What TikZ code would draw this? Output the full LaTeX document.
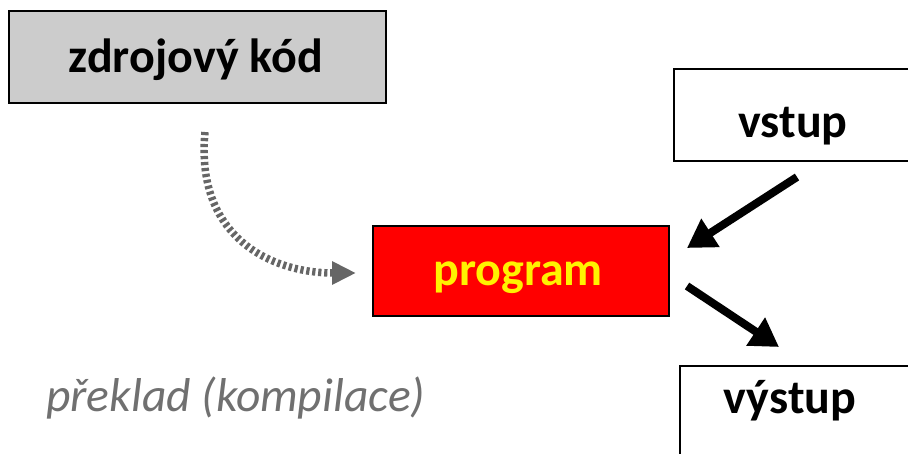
\documentclass[tikz,border=0pt]{standalone}
\usepackage{fontspec}
\setmainfont{Carlito}
\usetikzlibrary{arrows.meta,calc}
\definecolor{boxgray}{RGB}{204,204,204}
\definecolor{dotgray}{RGB}{102,102,102}
\definecolor{txtgray}{RGB}{112,112,112}
\tikzset{
  box/.style={draw=black, line width=2pt, inner sep=0pt},
  lbl/.style={font=\fontsize{48}{52}\selectfont\bfseries, anchor=base, inner sep=0pt},
  flow/.style={line width=8pt, -{Triangle[length=28pt,width=32pt]}},
  dotted arrow/.style={draw=dotgray, line width=7.5pt, dash pattern=on 3.2pt off 2.8pt,
     -{Triangle[length=24pt,width=22pt]}},
}
\begin{document}
\begin{tikzpicture}[x=1pt,y=-1pt]
\useasboundingbox (0,0) rectangle (908,453);
\clip (0,0) rectangle (908,453);
% boxes
\node[box, fill=boxgray, minimum width=377, minimum height=92, anchor=north west] (zdrojbox) at (8,10) {};
\node[box, fill=white, minimum width=260, minimum height=92, anchor=north west] (vstupbox) at (673,68) {};
\node[box, fill=red, minimum width=296, minimum height=90, anchor=north west] (programbox) at (372,225) {};
\node[box, fill=white, minimum width=260, minimum height=120, anchor=north west] (vystupbox) at (679,365) {};
% labels
\node[lbl] (zdroj) at (196,72) {zdrojový kód};
\node[lbl] (vstup) at (793,137) {vstup};
\node[lbl, text=yellow] (program) at (518,285) {program};
\node[lbl] (vystup) at (790,413) {výstup};
\node[font=\fontsize{47.5}{52}\selectfont\itshape, text=txtgray, anchor=base west, inner sep=0pt] (preklad) at (46,411) {překlad (kompilace)};
% connector end points
\coordinate (d1) at ($(zdrojbox.south west)+(197,28)$);
\coordinate (d2) at ($(programbox.west)+(-16,2)$);
\coordinate (a1) at ($(vstupbox.south west)+(124,15)$);
\coordinate (a2) at ($(programbox.east)+(17,-23)$);
\coordinate (b1) at ($(programbox.east)+(17,15)$);
\coordinate (b2) at ($(vystupbox.north west)+(100,-18)$);
% connectors
\draw[dotted arrow] (d1) .. controls ($(d1)+(-10,105)$) and ($(d2)+(-85,0)$) .. (d2);
\draw[flow] (a1) -- (a2);
\draw[flow] (b1) -- (b2);
\end{tikzpicture}
\end{document}
